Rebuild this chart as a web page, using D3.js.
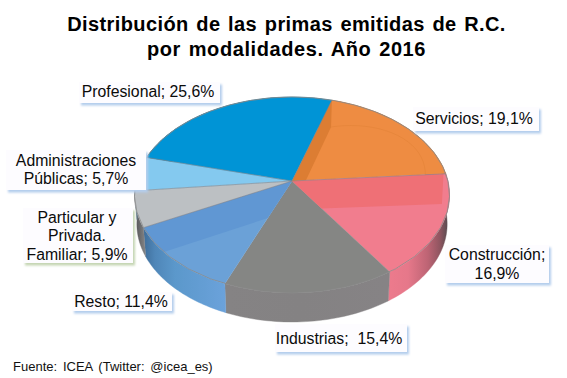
<!DOCTYPE html>
<html><head><meta charset="utf-8">
<style>html,body{margin:0;padding:0;background:#fff}svg{display:block}text{font-family:"Liberation Sans",Arial,sans-serif}</style>
<script src="https://cdn.jsdelivr.net/npm/d3@7"></script></head><body>
<script>
const categories = ["Servicios","Construcción","Industrias","Resto","Particular y Privada. Familiar","Administraciones Públicas","Profesional"];
const values = [19.1,16.9,15.4,11.4,5.9,5.7,25.6];
const colors = ["#ee8c42","#f17d8e","#858684","#6ba1d7","#bcc0c3","#84c9ef","#0094d6"];
const labelLines = [["Servicios; 19,1%"],["Construcción;","16,9%"],["Industrias;  15,4%"],["Resto; 11,4%"],["Particular y","Privada.","Familiar; 5,9%"],["Administraciones","Públicas; 5,7%"],["Profesional; 25,6%"]];
const titleLines = ["Distribución de las primas emitidas de R.C.","por modalidades. Año 2016"];
const sourceText = "Fuente: ICEA (Twitter: @icea_es)";

const W=567,H=378;
const svg=d3.select("body").append("svg").attr("width",W).attr("height",H);
const defs=svg.append("defs");
const shadow=(id,c)=>{const f=defs.append("filter").attr("id",id).attr("x","-10%").attr("y","-20%").attr("width","125%").attr("height","145%");
 f.append("feDropShadow").attr("dx",2).attr("dy",2.5).attr("stdDeviation",1).attr("flood-color",c).attr("flood-opacity",1);};
shadow("sb","#b4cdec");shadow("sg","#c5d6b3");

// perspective projection of the pie disc
const cx=292,cy=181,a=155.9,b=96,k=0.1429,depth=29;
const rad=d3.scaleLinear().domain([0,360]).range([0,2*Math.PI]);
function proj(deg,r=1){const t=rad(deg),X=r*Math.sin(t),Y=-r*Math.cos(t),w=1-k*Y;return [cx+a*X/w,cy+b*Y/w];}
function low(p){return [cx+(p[0]-cx)*0.985,p[1]+depth];}
const line=d3.line();
const arcPts=(s,e,r=1)=>d3.range(0,41).map(i=>proj(s+(e-s)*i/40,r));

const startAngle=16.9;
const pie=d3.pie().value(d=>d).sort(null).startAngle(rad(startAngle)).endAngle(rad(startAngle+360));
const deg=rad.invert;
const slices=pie(values).map((d,i)=>({i,s:deg(d.startAngle),e:deg(d.endAngle)}));

// side shading, horizontal gradients
const sideStops=[
 [[285,"#7a4a2c"],[449,"#6b4a30"]],
 [[385,"#ee7b8d"],[408,"#e6788a"],[428,"#bd6474"],[440,"#8f5560"],[449,"#4f4a4e"]],
 [[225,"#858384"],[300,"#848283"],[385,"#868385"]],
 [[142,"#3c6a96"],[155,"#4f86b8"],[175,"#5b98cb"],[226,"#6ba2db"]],
 [[134,"#4e4e50"],[146,"#87888a"]],
 [[134,"#5f7f96"],[147,"#6f9ab5"]],
 [[134,"#444"],[449,"#444"]]
];
sideStops.forEach((st,i)=>{const g=defs.append("linearGradient").attr("id","side"+i).attr("gradientUnits","userSpaceOnUse")
 .attr("x1",st[0][0]).attr("x2",st[st.length-1][0]).attr("y1",0).attr("y2",0);
 st.forEach(s=>g.append("stop").attr("offset",(s[0]-st[0][0])/(st[st.length-1][0]-st[0][0])).attr("stop-color",s[1]));});

const gSide=svg.append("g"),gTop=svg.append("g"),gLab=svg.append("g");
gSide.selectAll("path").data(slices).join("path")
 .attr("d",d=>{const t=arcPts(d.s,d.e);return line(t.concat(t.map(low).reverse()))+"Z";})
 .attr("fill",d=>`url(#side${d.i})`).attr("stroke",d=>`url(#side${d.i})`).attr("stroke-width",.4);

gTop.selectAll("path.f").data(slices).join("path").attr("class","f")
 .attr("d",d=>line([[cx,cy]].concat(arcPts(d.s,d.e)))+"Z").attr("fill",d=>colors[d.i]).attr("stroke",d=>colors[d.i]).attr("stroke-width",.3);

// lighting facets, in pie coordinates [angle, radius]
const sv=slices[0],co=slices[1],re=slices[3];
const facets=[
 {p:[[sv.s,1],[24,.67],[85,.09],[0,0]],c:"#dc7d33"},
 {p:[[co.s,.985],[104,.958],[co.e,.33],[0,0]],c:"#ef7076"},
 {p:[[re.e,1],[236,1],[228,1],[re.s,.395],[0,0]],c:"#6097d3"}
];
gTop.selectAll("path.l").data(facets).join("path").attr("class","l")
 .attr("d",d=>line(d.p.map(q=>proj(q[0],q[1])))+"Z").attr("fill",d=>d.c);
// thin inner crease on Servicios
const crease=d3.range(0,21).map(i=>{const t=i/20;return proj(24+(86-24)*t,.67+(.865-.67)*t+.12*Math.sin(t*Math.PI));});
gTop.append("path").attr("d",line(crease)).attr("fill","none").attr("stroke","#e28338").attr("stroke-width",.6);

// rim and slice borders
gTop.append("path").attr("d",line(arcPts(0,360))+"Z").attr("fill","none").attr("stroke","#8a8a8a").attr("stroke-width",.8);
const borderKeep=[0,1,4,5,6];
gTop.selectAll("path.b").data(borderKeep.map(i=>slices[i])).join("path").attr("class","b")
 .attr("d",d=>line([[cx,cy],proj(d.s)])).attr("stroke","#84848a").attr("stroke-opacity",.75).attr("stroke-width",.8).attr("fill","none");

// labels
const labelBoxes=[[413,107,126,24,118],[445,245,104,38,254.5],[275,324,132,28,338],[72,292,100,19,301.5],[23,208,110,55,217],[6,150,140,40,160],[79,82,141,21,91]];
const lineGap=[0,18.5,0,0,18.5,18,0];
const labelCx=[474,497,339,121,77,76,148];
gLab.selectAll("rect").data(slices).join("rect")
 .attr("x",d=>labelBoxes[d.i][0]).attr("y",d=>labelBoxes[d.i][1]).attr("width",d=>labelBoxes[d.i][2]).attr("height",d=>labelBoxes[d.i][3])
 .attr("fill","#fdfcff").attr("filter",d=>d.i===4?"url(#sg)":"url(#sb)");
slices.forEach(d=>{labelLines[d.i].forEach((t,j)=>{
 gLab.append("text").attr("x",labelCx[d.i]).attr("y",labelBoxes[d.i][4]+j*lineGap[d.i]).attr("dy","0.36em")
  .attr("text-anchor","middle").attr("font-size",15.8).attr("fill","#0b0b0b").style("white-space","pre").text(t);});});

// title + source
svg.selectAll("text.t").data(titleLines).join("text").attr("class","t")
 .attr("x",(d,i)=>i?286.5:286.5).attr("y",(d,i)=>31+i*25).attr("text-anchor","middle").attr("font-size",20).attr("font-weight","bold")
 .attr("letter-spacing",(d,i)=>i?.6:.4).attr("word-spacing",(d,i)=>i?1.6:1.7).attr("fill","#000").text(d=>d);
svg.append("text").attr("x",13).attr("y",371).attr("font-size",13).attr("word-spacing",2.2).attr("fill","#111").text(sourceText);
</script></body></html>
